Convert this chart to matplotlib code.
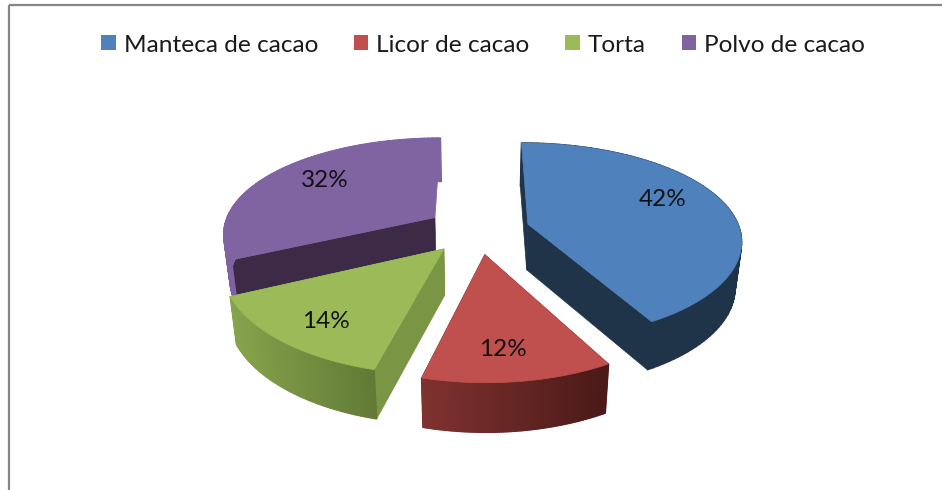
import numpy as np
import matplotlib
matplotlib.use('Agg')
import matplotlib.pyplot as plt
from matplotlib.patches import Patch, Polygon, Rectangle
from matplotlib.collections import PolyCollection
from matplotlib.colors import to_rgb

labels = ['Manteca de cacao', 'Licor de cacao', 'Torta', 'Polvo de cacao']
values = [42, 12, 14, 32]
colors = ['#4f81bd', '#c0504d', '#9bbb59', '#8064a2']

# rim shading, left to right on screen, and the colour of the cut faces
rim_left = ['#1f3349', '#803230', '#86a44c', '#7f62a2']
rim_right = ['#1f3349', '#4a1a18', '#627a36', '#8064a2']
wall_start = ['#1f3349', '#4a1a18', '#7a9544', '#3c2a47']
wall_end = ['#1f3349', '#4a1a18', '#7a9544', None]
label_frac = [0.73, 0.78, 0.785, 0.72]
label_angle = [67.9, 175, 217, 307]
draw_order = [3, 0, 2, 1]

cx, cy = 478, 230
R = 212
squash = 0.457
persp_x = 0.15
persp_y = 0.17
explode = 52
shrink = 0.975

plt.rcParams['font.family'] = ['Lato', 'DejaVu Sans']


def project(u, v):
    sx = 1 / (1 - persp_x * v / R)
    sy = 1 / (1 - persp_y * v / R)
    return cx + u * sx, cy + squash * v * sy


def lower(x, y):
    return cx + (x - cx) * shrink, y + 40 + 0.025 * y


def apex_uv(mid):
    return explode * np.sin(mid), -explode * np.cos(mid)


def rim_xy(mid, theta, r=R):
    u0, v0 = apex_uv(mid)
    return project(u0 + r * np.sin(theta), v0 - r * np.cos(theta))


def wall(ax, mid, theta, color):
    if color is None:
        return
    xa, ya = project(*apex_uv(mid))
    xr, yr = rim_xy(mid, theta)
    pts = [(xa, ya), (xr, yr), lower(xr, yr), lower(xa, ya)]
    ax.add_patch(Polygon(pts, closed=True, fc=color, ec=color, lw=0.5))


def draw_slice(ax, i, start, end):
    mid = (start + end) / 2
    th = np.linspace(start, end, 90)
    x, y = rim_xy(mid, th)
    xb, yb = lower(x, y)

    wall(ax, mid, start, wall_start[i])
    wall(ax, mid, end, wall_end[i])

    # outer side as thin strips so the shading runs across it
    quads = []
    cols = []
    c0 = np.array(to_rgb(rim_left[i]))
    c1 = np.array(to_rgb(rim_right[i]))
    for j in range(len(th) - 1):
        quads.append([(x[j], y[j]), (x[j + 1], y[j + 1]), (xb[j + 1], yb[j + 1]), (xb[j], yb[j])])
        t = (x[j] - x.min()) / (x.max() - x.min())
        cols.append(c0 + (c1 - c0) * t)
    ax.add_collection(PolyCollection(quads, facecolors=cols, edgecolors=cols, linewidths=1.0))

    xa, ya = project(*apex_uv(mid))
    top = [(xa, ya)] + list(zip(x, y))
    ax.add_patch(Polygon(top, closed=True, fc=colors[i], ec=colors[i], lw=0.5))


fig = plt.figure(figsize=(9.42, 4.90), dpi=100)
ax = fig.add_axes([0, 0, 1, 1])
ax.set_xlim(0, 942)
ax.set_ylim(490, 0)
ax.axis('off')

ax.add_patch(Rectangle((8.5, 5), 1000, 1000, fill=False, ec='#868686', lw=1.6))

edges = np.concatenate([[0], np.cumsum(values)]) / sum(values) * 2 * np.pi
for i in draw_order:
    draw_slice(ax, i, edges[i], edges[i + 1])

for i, val in enumerate(values):
    mid = (edges[i] + edges[i + 1]) / 2
    lx, ly = rim_xy(mid, np.radians(label_angle[i]), R * label_frac[i])
    ax.text(lx, ly, '%d%%' % val, ha='center', va='center', fontsize=17.5, color='#111111')

handles = [Patch(fc=c, ec='none', label=l) for c, l in zip(colors, labels)]
ax.legend(handles=handles, ncol=4, loc='center', bbox_to_anchor=(483 / 942, 1 - 45 / 490),
          frameon=False, fontsize=17.6, handlelength=0.58, handleheight=0.58,
          handletextpad=0.33, columnspacing=1.47, labelcolor='#1a1a1a',
          borderpad=0, borderaxespad=0)

fig.savefig('out.png', dpi=100)
